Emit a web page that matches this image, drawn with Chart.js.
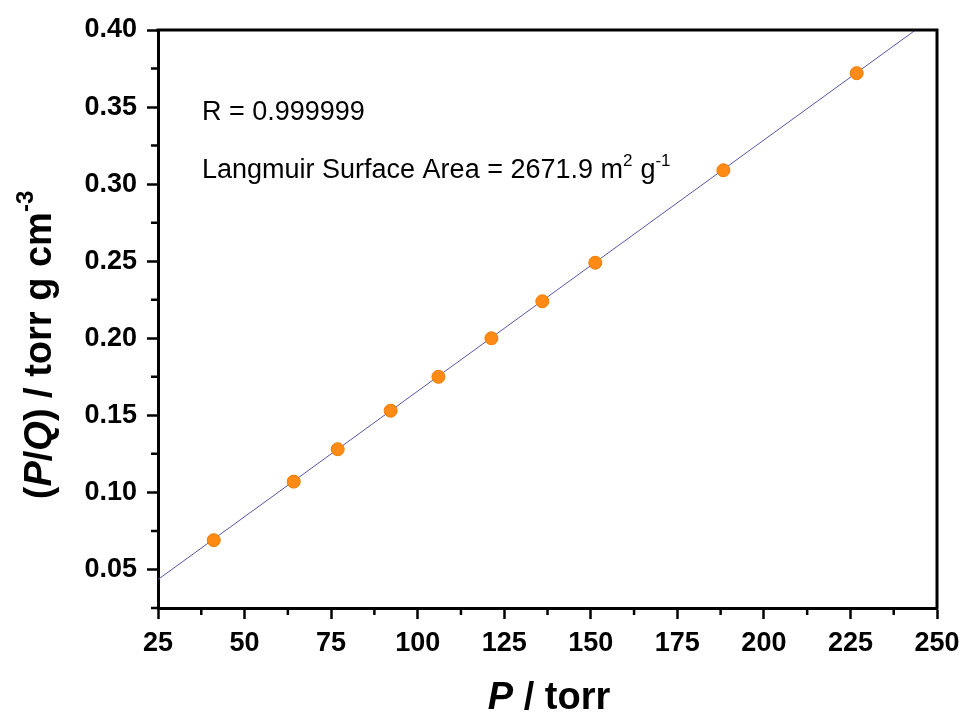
<!DOCTYPE html>
<html>
<head>
<meta charset="utf-8">
<script src="https://cdn.jsdelivr.net/npm/chart.js@4"></script>
<style>
  html, body { margin: 0; padding: 0; background: #fff; }
  #wrap { width: 962px; height: 714px; }
</style>
</head>
<body>
<div id="wrap"><canvas id="myChart" width="962" height="714"></canvas></div>
<script>
const pressure = [41.1, 64.2, 76.9, 92.2, 106.0, 121.3, 136.0, 151.3, 188.3, 226.8];
const pOverQ = [0.069, 0.107, 0.128, 0.153, 0.175, 0.200, 0.224, 0.249, 0.309, 0.372];
const fitX = [25, 243.8];
const fitY = [0.0435, 0.40];
const xTicks = [25, 50, 75, 100, 125, 150, 175, 200, 225, 250];
const yTicks = [0.05, 0.10, 0.15, 0.20, 0.25, 0.30, 0.35, 0.40];
const xMinor = [37.5, 62.5, 87.5, 112.5, 137.5, 162.5, 187.5, 212.5, 237.5];
const yMinor = [0.025, 0.075, 0.125, 0.175, 0.225, 0.275, 0.325, 0.375];

const FONT = '"Liberation Sans", Arial, sans-serif';
const ctx = document.getElementById('myChart').getContext('2d');

// draw text made of pieces with their own font and vertical shift
function richText(c, parts, x, y) {
    let cx = x;
    parts.forEach(function (p) {
        c.font = p.font;
        c.fillText(p.text, cx, y + (p.dy || 0));
        cx += c.measureText(p.text).width + (p.gap || 0);
    });
}
function richWidth(c, parts) {
    let w = 0;
    parts.forEach(function (p) {
        c.font = p.font;
        w += c.measureText(p.text).width + (p.gap || 0);
    });
    return w;
}

const decorations = {
    id: 'decorations',
    afterDraw(chart) {
        const c = chart.ctx;
        const a = chart.chartArea;
        const xs = chart.scales.x, ys = chart.scales.y;
        c.save();
        c.strokeStyle = '#000';
        // top and right frame
        c.lineWidth = 3;
        c.beginPath();
        c.moveTo(a.left - 1.5, a.top);
        c.lineTo(a.right, a.top);
        c.lineTo(a.right, a.bottom + 1.5);
        c.stroke();
        // minor ticks
        c.lineWidth = 2.5;
        c.beginPath();
        xMinor.forEach(function (v) {
            const px = xs.getPixelForValue(v);
            c.moveTo(px, a.bottom);
            c.lineTo(px, a.bottom + 7);
        });
        yMinor.forEach(function (v) {
            const py = ys.getPixelForValue(v);
            c.moveTo(a.left, py);
            c.lineTo(a.left - 7, py);
        });
        c.stroke();

        c.fillStyle = '#000';
        c.textBaseline = 'alphabetic';
        c.textAlign = 'left';
        // annotations
        const f = '27px ' + FONT, fs = '17px ' + FONT;
        richText(c, [{ text: 'R = 0.999999', font: f }], 202, 120);
        richText(c, [
            { text: 'Langmuir Surface Area = 2671.9 m', font: f },
            { text: '2', font: fs, dy: -12, gap: 8 },
            { text: 'g', font: f },
            { text: '-1', font: fs, dy: -12 }
        ], 202, 178);

        // x title
        const bt = 'bold 38px ' + FONT, bi = 'bold italic 38px ' + FONT, bs = 'bold 24px ' + FONT;
        const xt = [{ text: 'P', font: bi }, { text: ' / torr', font: bt }];
        richText(c, xt, 549 - richWidth(c, xt) / 2, 709);

        // y title
        const yt = [
            { text: '(', font: bt },
            { text: 'P', font: bi },
            { text: '/', font: bt },
            { text: 'Q', font: bi },
            { text: ') / torr g cm', font: bt },
            { text: '-3', font: bs, dy: -18 }
        ];
        c.translate(51, 345);
        c.rotate(-Math.PI / 2);
        richText(c, yt, -richWidth(c, yt) / 2, 0);
        c.restore();
    }
};

const data = {
    datasets: [
        {
            label: 'Fit',
            type: 'line',
            data: fitX.map(function (x, i) { return { x: x, y: fitY[i] }; }),
            borderColor: '#5656a8',
            borderWidth: 1,
            pointRadius: 0,
            fill: false,
            order: 2
        },
        {
            label: 'Data',
            data: pressure.map(function (x, i) { return { x: x, y: pOverQ[i] }; }),
            backgroundColor: '#ff8a16',
            borderColor: '#f07c00',
            borderWidth: 1,
            pointRadius: 6.5,
            order: 1
        }
    ]
};

const config = {
    type: 'scatter',
    data: data,
    options: {
        responsive: false,
        animation: false,
        layout: { padding: { left: 0, right: 25, top: 30, bottom: 0 } },
        plugins: {
            legend: { display: false },
            tooltip: { enabled: false }
        },
        scales: {
            x: {
                type: 'linear',
                min: 25,
                max: 250,
                afterBuildTicks: function (scale) {
                    scale.ticks = xTicks.map(function (v) { return { value: v }; });
                },
                afterFit: function (scale) {
                    scale.height = 106;
                    scale.paddingLeft = 0;
                    scale.paddingRight = 0;
                },
                border: { display: true, width: 3, color: '#000' },
                grid: { drawOnChartArea: false, drawTicks: true, tickLength: 11, tickWidth: 2.5, tickColor: '#000' },
                ticks: {
                    color: '#000',
                    padding: 8,
                    maxRotation: 0,
                    autoSkip: false,
                    font: { family: FONT, size: 27, weight: 'bold' }
                }
            },
            y: {
                type: 'linear',
                min: 0.025,
                max: 0.40,
                afterBuildTicks: function (scale) {
                    scale.ticks = yTicks.map(function (v) { return { value: v }; });
                },
                afterFit: function (scale) {
                    scale.width = 158;
                    scale.paddingTop = 0;
                    scale.paddingBottom = 0;
                },
                border: { display: true, width: 3, color: '#000' },
                grid: { drawOnChartArea: false, drawTicks: true, tickLength: 11, tickWidth: 2.5, tickColor: '#000' },
                ticks: {
                    color: '#000',
                    padding: 10,
                    autoSkip: false,
                    font: { family: FONT, size: 27, weight: 'bold' },
                    callback: function (value) { return value.toFixed(2); }
                }
            }
        }
    },
    plugins: [decorations]
};

const myChart = new Chart(ctx, config);
</script>
</body>
</html>
